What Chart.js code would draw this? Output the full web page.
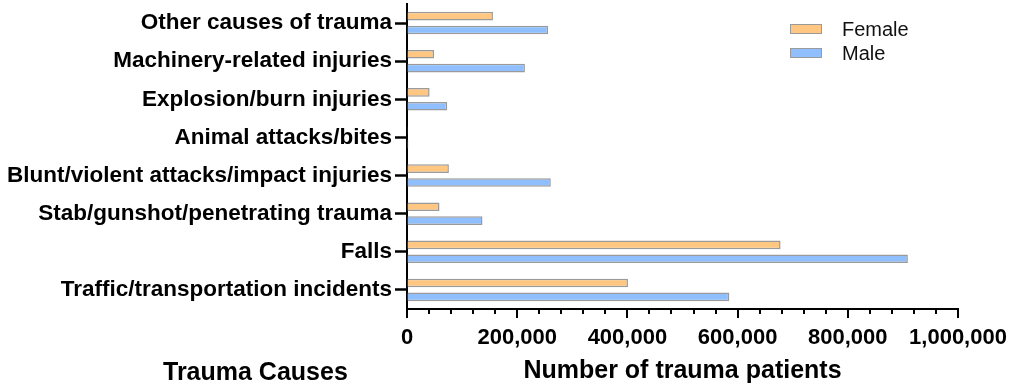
<!DOCTYPE html>
<html>
<head>
<meta charset="utf-8">
<script src="https://cdn.jsdelivr.net/npm/chart.js@4"></script>
<style>
	body { margin:0; background:#fff; font-family:'Liberation Sans', Arial, sans-serif; }
	#wrap { position:relative; width:1013px; height:391px; }
	#legend { position:absolute; left:790px; top:17px; font-size:20px; color:#111; }
	#legend div { display:flex; align-items:center; height:24px; }
	#legend span.box { display:inline-block; width:30px; height:8px; border:1.5px solid #9a9a9a; margin-right:20px; }
	#ytitle { position:absolute; left:163px; top:359px; font-size:25px; line-height:1; font-weight:bold; color:#000; }
</style>
</head>
<body>
<div id="wrap">
	<canvas id="c" width="1013" height="391"></canvas>
	<div id="legend"></div>
	<div id="ytitle">Trauma Causes</div>
</div>
<script>
const causes = [
	'Other causes of trauma',
	'Machinery-related injuries',
	'Explosion/burn injuries',
	'Animal attacks/bites',
	'Blunt/violent attacks/impact injuries',
	'Stab/gunshot/penetrating trauma',
	'Falls',
	'Traffic/transportation incidents'
];
const female = [156000, 49000, 41000, 1500, 76000, 59000, 678000, 401000];
const male   = [256000, 214000, 73000, 2500, 261000, 137000, 909000, 585000];
const xTicks = [0, 200000, 400000, 600000, 800000, 1000000];

const colors = { Female:'#FFC781', Male:'#8FBFFF' };

// x axis tick marks (major + minor), drawn from the scale
const tickMarks = {
	id: 'tickMarks',
	afterDraw(chart) {
		const s = chart.scales.x, ctx = chart.ctx;
		ctx.save();
		ctx.strokeStyle = '#000';
		ctx.lineWidth = 2;
		for (let v = 0; v <= 1000000; v += 40000) {
			const px = Math.round(s.getPixelForValue(v));
			const len = xTicks.includes(v) ? 9 : 5;
			ctx.beginPath();
			ctx.moveTo(px, s.top);
			ctx.lineTo(px, s.top + len);
			ctx.stroke();
		}
		ctx.restore();
	}
};

const chart = new Chart(document.getElementById('c'), {
	type: 'bar',
	data: {
		labels: causes,
		datasets: [
			{ label:'Female', data:female, backgroundColor:colors.Female, borderColor:'#9a9a9a', borderWidth:1.5, categoryPercentage:0.73, barPercentage:0.62 },
			{ label:'Male', data:male, backgroundColor:colors.Male, borderColor:'#9a9a9a', borderWidth:1.5, categoryPercentage:0.73, barPercentage:0.62 }
		]
	},
	options: {
		indexAxis: 'y',
		responsive: false,
		animation: false,
		layout: { padding: { top:4, right:55, left:0, bottom:0 } },
		plugins: {
			legend: { display:false },
			tooltip: { enabled:false }
		},
		scales: {
			x: {
				min: 0,
				max: 1000000,
				border: { color:'#000', width:2 },
				grid: { drawOnChartArea:false, drawTicks:false },
				ticks: {
					stepSize: 40000,
					autoSkip: false,
					maxRotation: 0,
					padding: 16,
					color: '#000',
					font: { family:'Liberation Sans', size:22, weight:'bold' },
					callback: v => xTicks.includes(v) ? v.toLocaleString('en-US') : ''
				},
				title: {
					display: true,
					text: 'Number of trauma patients',
					color: '#000',
					padding: { top:4, bottom:5 },
					font: { family:'Liberation Sans', size:25, weight:'bold' }
				},
				afterFit: s => { s.height = 82; s.paddingRight = 0; s.paddingLeft = 0; }
			},
			y: {
				border: { color:'#000', width:2 },
				grid: { offset:false, drawOnChartArea:false, drawTicks:true, tickLength:12, tickColor:'#000', tickWidth:2.5 },
				ticks: {
					padding: 3,
					color: '#000',
					font: { family:'Liberation Sans', size:22.5, weight:'bold' }
				},
				afterFit: s => { s.width = 407; s.paddingTop = 0; s.paddingBottom = 0; }
			}
		}
	},
	plugins: [tickMarks]
});

// legend from the datasets
const lg = document.getElementById('legend');
chart.data.datasets.forEach(d => {
	const row = document.createElement('div');
	const box = document.createElement('span');
	box.className = 'box';
	box.style.background = d.backgroundColor;
	row.appendChild(box);
	row.appendChild(document.createTextNode(d.label));
	lg.appendChild(row);
});
</script>
</body>
</html>
